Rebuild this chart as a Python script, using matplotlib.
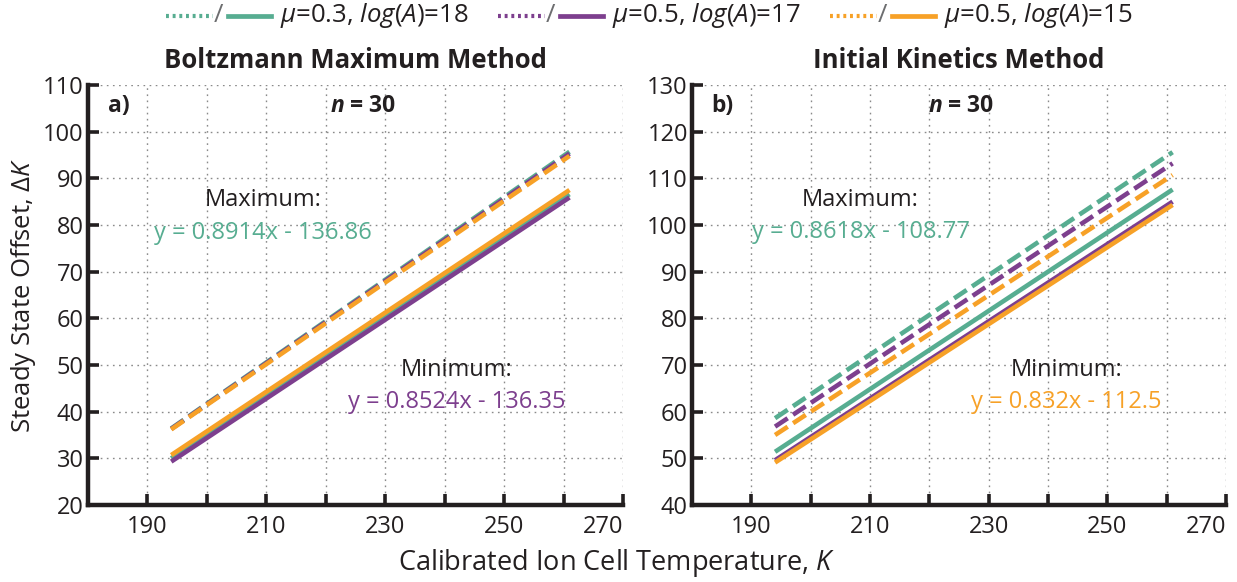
import matplotlib
matplotlib.use("Agg")
import matplotlib.pyplot as plt
from matplotlib.lines import Line2D

FONT = "Open Sans"
plt.rcParams.update({
    "font.family": [FONT, "DejaVu Sans"],
    "mathtext.fontset": "custom",
    "mathtext.rm": FONT,
    "mathtext.it": FONT + ":italic",
    "mathtext.bf": FONT + ":bold",
    "mathtext.bfit": FONT + ":italic:bold",
    "text.color": "#231f20",
})

# ---------------- data ----------------
x_ends = [194, 261]

# panel a) Boltzmann Maximum Method
a_teal_dash = [36.4, 95.7]
a_purple_dash = [36.3, 95.3]
a_orange_dash = [36.2, 94.8]
a_teal_solid = [30.0, 86.6]
a_purple_solid = [29.3, 85.9]
a_orange_solid = [30.7, 87.5]

# panel b) Initial Kinetics Method
b_teal_dash = [58.6, 115.6]
b_purple_dash = [56.8, 113.2]
b_orange_dash = [55.0, 110.7]
b_teal_solid = [51.4, 107.6]
b_purple_solid = [49.6, 105.0]
b_orange_solid = [49.1, 104.3]

series_labels = [r"$\mu$=0.3, $log(A)$=18",
                 r"$\mu$=0.5, $log(A)$=17",
                 r"$\mu$=0.5, $log(A)$=15"]
titles = ["Boltzmann Maximum Method", "Initial Kinetics Method"]
panel_tags = ["a)", "b)"]
max_eqs = ["y = 0.8914x - 136.86", "y = 0.8618x - 108.77"]
min_eqs = ["y = 0.8524x - 136.35", "y = 0.832x - 112.5"]
x_ticks = [180, 190, 200, 210, 220, 230, 240, 250, 260, 270]
x_labels = ["", "190", "", "210", "", "230", "", "250", "", "270"]
a_yticks = [20, 30, 40, 50, 60, 70, 80, 90, 100, 110]
b_yticks = [40, 50, 60, 70, 80, 90, 100, 110, 120, 130]

TEAL = "#57ad91"
PURPLE = "#7d3f8e"
ORANGE = "#f7a127"
DARK = "#231f20"
colors = [TEAL, PURPLE, ORANGE]

W, H = 1237, 582
fig = plt.figure(figsize=(W / 100, H / 100), dpi=100)
axA = fig.add_axes([88 / W, 1 - 505 / H, 535 / W, 420 / H])
axB = fig.add_axes([692 / W, 1 - 505 / H, 534 / W, 420 / H])

LW = 3.3
DASH = (0, (3.3, 1.4))


def draw(ax, dashes, solids, yticks, tag, title, meq, mcol, neq, ncol, ann):
    for s, c in zip(solids, colors):
        ax.plot(x_ends, s, color=c, lw=LW, solid_capstyle="butt", zorder=3)
    for s, c in zip(dashes, colors):
        ax.plot(x_ends, s, color=c, lw=LW, linestyle=DASH, dash_capstyle="butt", zorder=4)
    ax.set_xlim(180, 270)
    ax.set_ylim(yticks[0], yticks[-1])
    ax.set_xticks(x_ticks)
    ax.set_xticklabels(x_labels)
    ax.get_xticklabels()[-1].set_horizontalalignment("right")
    ax.set_yticks(yticks)
    ax.set_yticklabels([str(v) for v in yticks])
    ax.grid(True, linestyle=(0, (1.2, 3.2)), color="#8a8a8a", lw=1.0)
    for sp in ["top", "right"]:
        ax.spines[sp].set_visible(False)
    for sp in ["left", "bottom"]:
        ax.spines[sp].set_linewidth(3.2)
        ax.spines[sp].set_color(DARK)
    ax.tick_params(direction="in", length=8, width=2.6, color=DARK,
                   labelsize=17, labelcolor=DARK, pad=3)
    ax.tick_params(axis="x", pad=7)
    ax.set_title(title, fontsize=18.5, fontweight="bold", color=DARK, pad=12)
    (tx, ty), (nx, ny), (mx, my1, my2), (qx, qy1, qy2) = ann
    ax.text(tx, ty, tag, fontsize=16.5, fontweight="bold", ha="left", va="center")
    ax.text(nx, ny, r"$\mathbfit{n}$ = 30", fontsize=16.5, fontweight="bold",
            ha="center", va="center")
    ax.text(mx, my1, "Maximum:", fontsize=17, ha="center", va="center", color=DARK)
    ax.text(mx, my2, meq, fontsize=17, ha="center", va="center", color=mcol)
    ax.text(qx, qy1, "Minimum:", fontsize=17, ha="center", va="center", color=DARK)
    ax.text(qx, qy2, neq, fontsize=17, ha="center", va="center", color=ncol)


draw(axA,
     [a_teal_dash, a_purple_dash, a_orange_dash],
     [a_teal_solid, a_purple_solid, a_orange_solid],
     a_yticks, panel_tags[0], titles[0], max_eqs[0], TEAL, min_eqs[0], PURPLE,
     [(183.3, 105.4), (226.3, 105.4), (209.5, 85.4, 78.2), (242.0, 48.9, 42.1)])
draw(axB,
     [b_teal_dash, b_purple_dash, b_orange_dash],
     [b_teal_solid, b_purple_solid, b_orange_solid],
     b_yticks, panel_tags[1], titles[1], max_eqs[1], TEAL, min_eqs[1], ORANGE,
     [(183.2, 125.4), (225.3, 125.4), (208.4, 105.4, 98.4), (243.1, 68.9, 62.1)])

axA.set_ylabel(r"Steady State Offset, $\mathit{\Delta K}$", fontsize=18.5, color=DARK, labelpad=4)
fig.text(617 / W, 1 - 563 / H, r"Calibrated Ion Cell Temperature, $K$",
         fontsize=19.5, ha="center", va="center", color=DARK)

# ---------------- legend (top) ----------------
ly = 1 - 16 / H
for i, (lab, c) in enumerate(zip(series_labels, colors)):
    off = 166 + 332 * i
    fig.add_artist(Line2D([off / W, (off + 47) / W], [ly, ly], transform=fig.transFigure,
                          color=c, lw=3.0, linestyle=(0, (0.7, 0.9))))
    fig.text((off + 52) / W, ly, "/", fontsize=18.5, color="#6d6e70", ha="center", va="center")
    fig.add_artist(Line2D([(off + 62) / W, (off + 105) / W], [ly, ly], transform=fig.transFigure,
                          color=c, lw=3.4))
    fig.text((off + 114) / W, ly, lab, fontsize=18.5, color=DARK, ha="left", va="center")

fig.savefig("out.png", dpi=100)
